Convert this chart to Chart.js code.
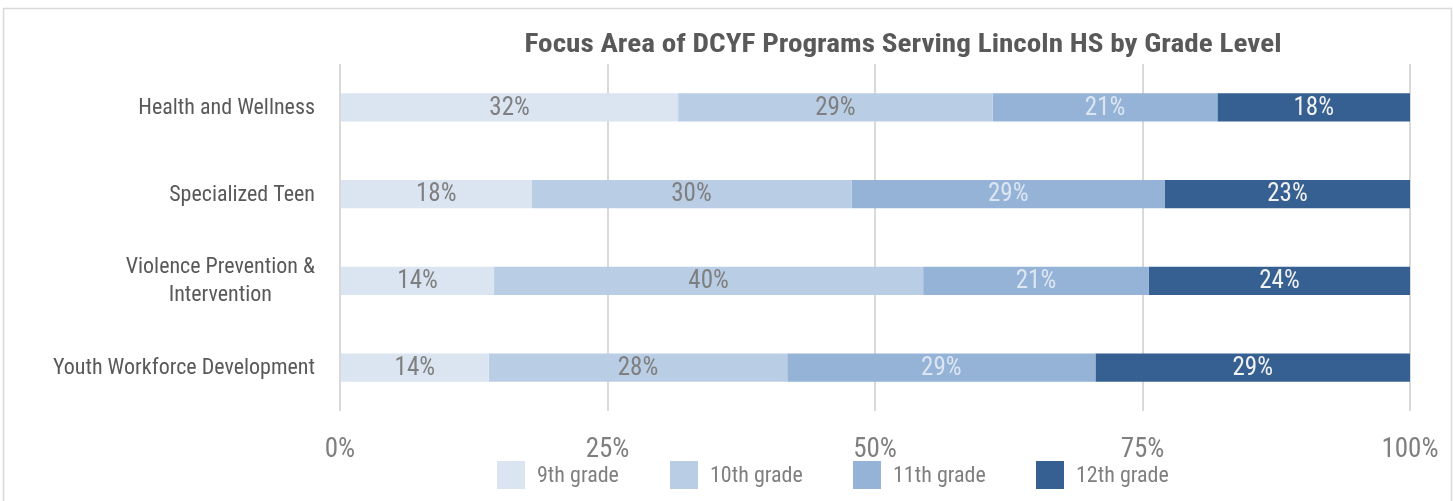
<!DOCTYPE html>
<html>
<head>
<meta charset="utf-8">
<script src="https://cdn.jsdelivr.net/npm/chart.js@4/dist/chart.umd.min.js"></script>
<style>
  html, body { margin: 0; padding: 0; background: #fff; }
  #wrap { position: relative; width: 1453px; height: 501px; }
</style>
</head>
<body>
<div id="wrap"><canvas id="myChart" width="1453" height="501"></canvas></div>
<script>
// data
const chartTitle = 'Focus Area of DCYF Programs Serving Lincoln HS by Grade Level';
const categories = [['Health and Wellness'], ['Specialized Teen'], ['Violence Prevention &', 'Intervention'], ['Youth Workforce Development']];
const grades = ['9th grade', '10th grade', '11th grade', '12th grade'];
const grade9 = [31.6, 17.9, 14.4, 13.9];
const grade10 = [29.4, 29.9, 40.1, 27.9];
const grade11 = [21.0, 29.3, 21.1, 28.8];
const grade12 = [18.0, 22.9, 24.4, 29.4];
const xTicks = [0, 25, 50, 75, 100];

const barColors = ['#DBE5F1', '#B9CDE5', '#95B3D7', '#366092'];
const labelColors = ['#7F7F7F', '#7F7F7F', '#DCE6F2', '#F2F2F2'];
const fontName = "'Liberation Sans Narrow', 'Arial Narrow', 'Roboto Condensed', sans-serif";

// frame, title, y labels, value labels and legend
const extras = {
  id: 'extras',
  afterDraw(chart) {
    const ctx = chart.ctx;
    ctx.save();
    ctx.strokeStyle = '#D9D9D9';
    ctx.lineWidth = 1.5;
    ctx.strokeRect(3.5, 8.5, 1448, 520);

    // title, stretched to the width it has in the original
    ctx.fillStyle = '#595959';
    ctx.font = 'bold 25px ' + fontName;
    ctx.textAlign = 'center';
    ctx.textBaseline = 'middle';
    const tw = ctx.measureText(chartTitle).width;
    ctx.save();
    ctx.translate(903, 46);
    ctx.scale(757 / tw, 1);
    ctx.fillText(chartTitle, 0, 0);
    ctx.restore();

    // category labels
    const yScale = chart.scales.y;
    ctx.font = '22px ' + fontName;
    ctx.fillStyle = '#595959';
    categories.forEach((lines, i) => {
      const yc = yScale.getPixelForValue(i);
      const w = Math.max(...lines.map(l => ctx.measureText(l).width));
      const cx = 315 - w / 2;
      const lh = 28;
      lines.forEach((l, j) => {
        ctx.fillText(l, cx, yc + 1 + (j - (lines.length - 1) / 2) * lh);
      });
    });

    // values in bars
    ctx.font = '25px ' + fontName;
    chart.data.datasets.forEach((ds, di) => {
      const meta = chart.getDatasetMeta(di);
      ctx.fillStyle = labelColors[di];
      meta.data.forEach((bar, i) => {
        const p = bar.getProps(['x', 'base', 'y'], true);
        ctx.fillText(Math.round(ds.data[i]) + '%', (p.x + p.base) / 2, p.y + 1);
      });
    });

    // legend
    const legendX = [497, 670, 853, 1036];
    ctx.textAlign = 'left';
    ctx.font = '22px ' + fontName;
    grades.forEach((g, i) => {
      ctx.fillStyle = barColors[i];
      ctx.fillRect(legendX[i], 461, 28, 28);
      ctx.fillStyle = '#7F7F7F';
      ctx.fillText(g, legendX[i] + 40, 476);
    });
    ctx.restore();
  }
};

const seriesData = [grade9, grade10, grade11, grade12];

new Chart(document.getElementById('myChart').getContext('2d'), {
  type: 'bar',
  data: {
    labels: categories,
    datasets: grades.map((g, i) => ({
      label: g,
      data: seriesData[i],
      backgroundColor: barColors[i],
      borderWidth: 0,
      barPercentage: 0.324,
      categoryPercentage: 1
    }))
  },
  options: {
    indexAxis: 'y',
    responsive: false,
    animation: false,
    layout: { padding: { top: 64, right: 43, left: 0, bottom: 0 } },
    plugins: {
      legend: { display: false },
      title: { display: false },
      tooltip: { enabled: false }
    },
    scales: {
      x: {
        stacked: true,
        min: 0,
        max: 100,
        afterBuildTicks: s => { s.ticks = xTicks.map(v => ({ value: v })); },
        afterFit: s => { s.height = 90; s.paddingLeft = 0; s.paddingRight = 0; },
        border: { display: false },
        grid: { color: '#D9D9D9', lineWidth: 2, drawTicks: false },
        ticks: {
          padding: 23,
          color: '#7F7F7F',
          font: { family: fontName, size: 27 },
          callback: v => v + '%'
        }
      },
      y: {
        stacked: true,
        afterFit: s => { s.width = 340; },
        border: { display: false },
        grid: { display: false },
        ticks: { display: false }
      }
    }
  },
  plugins: [extras]
});
</script>
</body>
</html>
